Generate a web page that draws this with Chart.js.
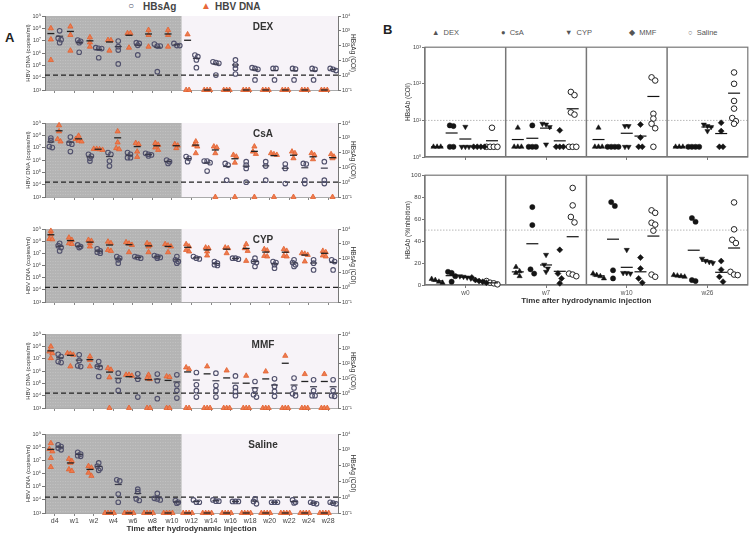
<!DOCTYPE html>
<html>
<head>
<meta charset="utf-8">
<script src="https://cdn.jsdelivr.net/npm/chart.js@4.4.1/dist/chart.umd.min.js"></script>
<style>
  body { margin: 0; width: 755px; height: 535px; position: relative; overflow: hidden; background: #fff;
         font-family: Arial, "Liberation Sans", Helvetica, sans-serif; }
  .txt { position: absolute; white-space: nowrap; color: #444; }
  .big { font-weight: bold; font-size: 13px; color: #222; }
  .legA { font-weight: bold; font-size: 10px; }
  .legB { font-size: 7.5px; color: #555; }
</style>
</head>
<body>
<div class="txt big" style="left:5px;top:30px">A</div>
<div class="txt big" style="left:383px;top:22px">B</div>

<div class="txt legA" style="left:128px;top:0px"><span style="color:#50506c">○</span></div>
<div class="txt legA" style="left:143px;top:1px">HBsAg</div>
<div class="txt legA" style="left:201px;top:0px"><span style="color:#e8683a">▲</span></div>
<div class="txt legA" style="left:215px;top:1px">HBV DNA</div>

<div class="txt legB" style="left:432px;top:28px">▲&nbsp;&nbsp;DEX</div>
<div class="txt legB" style="left:501px;top:28px">●&nbsp;&nbsp;CsA</div>
<div class="txt legB" style="left:565px;top:28px">▼&nbsp;&nbsp;CYP</div>
<div class="txt legB" style="left:629px;top:28px">◆&nbsp;&nbsp;MMF</div>
<div class="txt legB" style="left:688px;top:28px">○&nbsp;&nbsp;Saline</div>

<script>
// ---- panel A data: log10 values ----
const timepoints = ["d4", "w1", "w2", "w4", "w6", "w8", "w10", "w12", "w14", "w16", "w18", "w20", "w22", "w24", "w28"];
const dnaTicks = [3, 4, 5, 6, 7, 8, 9];      // HBV DNA axis, log10 copies/ml
const hbsagTicks = [-1, 0, 1, 2, 3, 4];      // HBsAg axis, log10 COI

// HBV DNA (log10 copies/ml), 3 = undetectable
const dexDna = [
  [8.0, 7.1, 5.43], [8.14, 7.46, 6.19], [7.27, 6.86, 6.51], [7.05, 7.03, 6.19], [7.6, 7.6, 6.43], [7.86, 7.46, 6.51], [7.86, 7.46, 6.51],
  [7.51, 3, 3], [3, 3, 3], [3, 3, 3], [3, 3, 3], [3, 3, 3], [3, 3, 3], [3, 3, 3], [3, 3, 3]
];
const dexHbsag = [
  [3.0, 2.5, 2.2, 2.4], [2.2, 2.29, 2.38, 1.55], [1.82, 1.8, 1.86, 1.18], [2.31, 1.93, 1.7, 0.76], [2.2, 2.15, 2.02, 1.37], [1.97, 1.97, 2.1, 0.24], [2.15, 2.0, 2.0],
  [1.25, 1.36, 1.03, 0.51], [0.85, 0.8, 0.91, 0.01], [1.03, 0.69, 0.46, 0.08], [0.46, 0.4, 0.51, -0.32], [0.46, 0.46, -0.32], [0.46, 0.42, -0.32], [0.46, 0.4, -0.32], [0.4, 0.31, 0.46]
];
const csaDna = [
  [8.81, 8.32, 7.69, 7.5], [7.96, 7.69, 7.56, 7.5], [6.9, 6.9, 6.87, 6.82], [8.32, 7.42, 6.96, 6.87], [7.37, 7.28, 6.68, 6.25], [7.37, 7.23, 7.01, 6.82], [7.28, 7.17, 6.96],
  [7.5, 7.23, 7.09, 6.55], [7.09, 7.01, 6.55, 3], [6.41, 6.27, 5.78, 3], [7.09, 6.68, 6.49, 3], [6.47, 6.41, 6.55, 3], [6.68, 6.55, 6.14, 3], [6.55, 6.41, 6.06, 3], [6.47, 6.27, 6.14, 3]
];
const csaHbsag = [
  [2.98, 2.82, 2.41, 2.34], [3.05, 2.64, 2.57, 2.07], [1.89, 1.77, 1.61, 1.43], [2.0, 1.89, 1.43, 1.09], [2.0, 1.89, 1.66, 1.66], [1.95, 1.84, 1.89, 1.77], [1.5, 1.39, 1.27],
  [1.73, 1.61, 1.39], [1.43, 1.43, 1.32, 0.75], [1.27, 1.16, 0.14], [1.39, 1.16, 0.93, 0], [1.39, 1.09, 0.14], [1.23, 0.93, -0.09], [1.27, 1.23, 0.14, -0.09], [1.39, 0.14, -0.09]
];
const cypDna = [
  [8.84, 8.56, 8.18, 8.15], [8.29, 8.1, 7.83, 7.77], [8.1, 8.02, 7.83, 7.56], [7.96, 7.83, 7.28, 7.2], [7.91, 7.8, 7.69, 7.09], [7.83, 7.69, 7.56, 7.09], [7.75, 7.64, 7.56, 7.09],
  [7.75, 7.56, 7.28, 7.15], [7.47, 7.42, 7.15, 6.82], [7.47, 7.42, 7.01], [7.75, 7.42, 7.2, 6.38], [7.34, 7.23, 6.79, 6.74], [7.34, 7.2, 6.79, 6.74], [7.01, 6.96, 6.87, 6.33], [7.2, 7.09, 6.82, 6.74]
];
const cypHbsag = [
  [3.02, 2.86, 2.73, 2.5], [2.91, 2.8, 2.73], [2.64, 2.5, 2.41, 2.34], [2.11, 2.0, 1.89, 1.66], [2.11, 2.05, 2.0], [2.18, 2.11, 2.05, 2.0], [2.11, 1.89, 1.77, 1.66],
  [2.11, 2.0, 1.95], [1.77, 1.66, 1.55, 1.5], [2.0, 2.0, 1.93], [2.0, 1.77, 1.7, 1.43], [1.77, 1.7, 1.55, 1.32], [1.89, 1.7, 1.55, 1.43], [1.89, 1.66, 1.2], [1.89, 1.77, 1.2]
];
const mmfDna = [
  [7.98, 7.58, 7.44, 7.04], [7.44, 7.39, 7.31, 6.37], [7.17, 6.9, 6.37], [6.23, 6.1, 5.48, 3], [5.69, 5.69, 5.61, 3], [5.69, 5.42, 5.34, 3, 3], [5.56, 5.51, 3, 3],
  [6.29, 6.15, 3, 3], [6.37, 3, 3, 3], [6.04, 3, 3, 3], [5.61, 3, 3, 3], [5.96, 3, 3, 3], [7.23, 3, 3, 3], [5.75, 3, 3, 3], [5.75, 3, 3, 3]
];
const mmfHbsag = [
  [2.63, 2.48, 2.14, 2.07], [2.59, 2.21, 1.85, 1.8], [2.14, 1.8, 1.74, 1.13], [1.35, 0.84, 0.19], [1.31, 0.95, -0.26], [1.29, 0.84, -0.37], [1.24, 0.57, 0.19, -0.33],
  [1.4, 0.57, 0.17, -0.26], [1.35, 0.52, 0.17, -0.26], [1.17, 0.39, 0.12, -0.17], [0.79, 0.23, -0.1, -0.26], [0.97, 0.46, 0.12, -0.21], [1.02, 0.35, -0.04, -0.17], [0.91, 0.17, -0.17, -0.17], [0.91, 0.17, -0.17, -0.21]
];
const salineDna = [
  [8.3, 7.86, 7.68, 7.18, 6.49], [7.11, 6.94, 6.81, 6.31, 6.19], [6.56, 6.44, 6.06, 5.82], [3, 3, 3, 3], [3, 3, 3, 3], [3, 3, 3, 3], [3, 3, 3, 3],
  [3, 3, 3, 3], [3, 3, 3, 3], [3, 3, 3, 3], [3, 3, 3, 3], [3, 3, 3, 3], [3, 3, 3, 3], [3, 3, 3, 3], [3, 3, 3, 3]
];
const salineHbsag = [
  [3.32, 3.21, 3.11, 3.0], [2.84, 2.73, 2.63, 2.59], [2.17, 1.97, 1.82, 1.7], [1.1, 1.03, 0.2, -0.32], [0.51, 0.35, -0.11, -0.21], [0.24, -0.07, -0.11, -0.17], [-0.21, -0.32, -0.38],
  [-0.17, -0.32, -0.32], [-0.17, -0.25, -0.25], [-0.27, -0.27, -0.27], [-0.11, -0.27, -0.42], [-0.32, -0.32, -0.32], [-0.17, -0.32, -0.36], [-0.32, -0.38, -0.42], [-0.32, -0.38, -0.42]
];

// ---- panel B data ----
const weeksB = ["w0", "w7", "w10", "w26"];
const treatments = ["DEX", "CsA", "CYP", "MMF", "Saline"];
const hbsabTicks = [0, 1, 2, 3];
// HBsAb (COI) per week
const hbsabDex = [[1.9, 1.9, 1.9], [6.3, 1.9, 1.9, 1.9], [6.3, 1.9, 1.9, 1.9], [1.9, 1.9, 1.9]];
const hbsabCsa = [[7.3, 7.0, 1.9, 1.9], [7.3, 1.9, 1.9, 1.9], [1.9, 1.9, 1.9, 1.9], [1.9, 1.9, 1.9, 1.9]];
const hbsabCyp = [[6.7, 1.9, 1.9, 1.9], [8.1, 7.7, 6.6, 2.2], [7, 7, 1.9, 1.9], [7.7, 7, 6.6, 5.1]];
const hbsabMmf = [[1.9, 1.9, 1.9, 1.9], [5.35, 1.9, 1.9, 1.9], [7.7, 3.4, 1.9, 1.9], [8.6, 5.1, 1.9, 1.9]];
const hbsabSaline = [[6.3, 1.9, 1.9, 1.9, 1.9], [60, 49, 16.5, 14.4, 1.9, 1.9, 1.9], [150, 123, 15.2, 11.2, 8.1, 6.1, 1.9], [204, 100, 34, 21, 11.6, 9.5, 8.1]];
// HBcAb (% inhibition) per week
const hbcabDex = [[5.5, 4.5, 3, 2], [16.4, 12.5, 11, 8], [10.4, 9, 8, 6], [9, 8.5, 8, 7.5]];
const hbcabCsa = [[12, 11, 8, 3], [71, 54.6, 14.3, 10.4], [75.5, 72, 13.4, 6], [61, 57.6, 4.5, 3.6]];
const hbcabCyp = [[8, 7.5, 6.9, 6], [27.5, 18.5, 15, 12], [32, 11, 11, 10.4], [24, 22, 21, 20]];
const hbcabMmf = [[6.9, 4.5, 3.6, 3, 2.1], [32, 10.4, 6, 1.5], [25, 15, 6, 2.1], [21.8, 14, 7.5, 3]];
const hbcabSaline = [[3.6, 2.1, 1.5, 0.6], [88.4, 72.5, 62, 57, 10.4, 9.5, 8], [68, 65.7, 56.7, 55, 49.5, 9.5, 7.5], [75.2, 50.7, 41.2, 38.2, 12, 9.5, 9]];

// ---- helpers ----
const supMap = { "-": "⁻", "0": "⁰", "1": "¹", "2": "²", "3": "³", "4": "⁴", "5": "⁵", "6": "⁶", "7": "⁷", "8": "⁸", "9": "⁹" };
function pow10Label(v) {
  const e = Math.round(Math.log10(v));
  return "10" + String(e).split("").map((c) => supMap[c]).join("");
}

function addCanvas(left, top, w, h) {
  const c = document.createElement("canvas");
  c.width = w;
  c.height = h;
  c.style.cssText = `position:absolute;left:${left}px;top:${top}px;width:${w}px;height:${h}px`;
  document.body.appendChild(c);
  return c;
}

// put values that are close together side by side
function swarm(vals, center, step, thr) {
  const order = vals.map((v, i) => i).sort((a, b) => vals[b] - vals[a]);
  const xs = new Array(vals.length);
  let cluster = [];
  const flush = () => {
    cluster.forEach((idx, k) => {
      xs[idx] = center + (k - (cluster.length - 1) / 2) * step;
    });
    cluster = [];
  };
  order.forEach((idx) => {
    if (cluster.length && Math.abs(vals[cluster[0]] - vals[idx]) > thr) flush();
    cluster.push(idx);
  });
  flush();
  return xs;
}

function mean(arr) {
  return arr.reduce((s, v) => s + v, 0) / arr.length;
}

const smallTick = { size: 5.5, family: "Arial" };

// ---- panel A ----
function buildA(spec) {
  const { top, bottom, label, dna, hbsag, dnaFirst, showX } = spec;
  const padTop = 6;
  const xh = showX ? 21 : 6;
  const canvas = addCanvas(0, top - padTop, 375, padTop + (bottom - top) + xh);
  const dnaOff = dnaFirst ? -0.2 : 0.22;
  const agOff = dnaFirst ? 0.25 : -0.2;

  const dnaPts = [], agPts = [], dnaMean = [], agMean = [];
  timepoints.forEach((t, i) => {
    const xs = swarm(dna[i], i + dnaOff, 0.15, 0.25);
    dna[i].forEach((v, k) => dnaPts.push({ x: xs[k], y: 10 ** v }));
    dnaMean.push({ x: i + dnaOff, y: mean(dna[i].map((v) => 10 ** v)) });
    const xa = swarm(hbsag[i], i + agOff, 0.15, 0.16);
    hbsag[i].forEach((v, k) => agPts.push({ x: xa[k], y: 10 ** v }));
    agMean.push({ x: i + agOff, y: mean(hbsag[i].map((v) => 10 ** v)) });
  });

  const panelBg = {
    id: "panelBg",
    beforeDraw(chart) {
      const { ctx, chartArea: a, scales } = chart;
      const split = scales.x.getPixelForValue(6.5);
      ctx.save();
      ctx.fillStyle = "#b4b4b4";
      ctx.fillRect(a.left, a.top, split - a.left, a.bottom - a.top);
      ctx.strokeStyle = "rgba(225,225,225,0.3)";
      ctx.lineWidth = 1;
      ctx.setLineDash([1, 1.5]);
      for (let y = a.top + 2.5; y < a.bottom; y += 3) {
        ctx.beginPath();
        ctx.moveTo(a.left, y);
        ctx.lineTo(split, y);
        ctx.stroke();
      }
      ctx.setLineDash([]);
      ctx.fillStyle = "#f7f3f8";
      ctx.fillRect(split, a.top, a.right - split, a.bottom - a.top);
      ctx.restore();
    },
    beforeDatasetsDraw(chart) {
      const { ctx, chartArea: a, scales } = chart;
      const yc = scales.y2.getPixelForValue(1);
      ctx.save();
      ctx.strokeStyle = "#222";
      ctx.lineWidth = 1.3;
      ctx.setLineDash([5, 3]);
      ctx.beginPath();
      ctx.moveTo(a.left, yc);
      ctx.lineTo(a.right, yc);
      ctx.stroke();
      ctx.setLineDash([]);
      ctx.fillStyle = "#333";
      ctx.font = "bold 10px Arial";
      ctx.textAlign = "center";
      ctx.textBaseline = "middle";
      ctx.fillText(label, 263, a.top + 11);
      ctx.restore();
    },
  };

  new Chart(canvas, {
    type: "scatter",
    data: {
      datasets: [
        { data: dnaMean, yAxisID: "y", pointStyle: "line", radius: 3.5, borderColor: "#222", borderWidth: 1.3, clip: false },
        { data: agMean, yAxisID: "y2", pointStyle: "line", radius: 3.5, borderColor: "#3a3a4a", borderWidth: 1.2, clip: false },
        { data: agPts, yAxisID: "y2", pointStyle: "circle", radius: 2.3, backgroundColor: "rgba(0,0,0,0)", borderColor: "#50506c", borderWidth: 1.1, clip: false },
        { data: dnaPts, yAxisID: "y", pointStyle: "triangle", radius: 3, backgroundColor: "#ee7b4f", borderColor: "#e2612f", borderWidth: 0.8, clip: false },
      ],
    },
    options: {
      animation: false,
      responsive: false,
      devicePixelRatio: 1,
      events: [],
      layout: { padding: { top: padTop, left: 0, right: 0, bottom: 0 } },
      plugins: { legend: { display: false }, tooltip: { enabled: false } },
      scales: {
        x: {
          type: "linear",
          min: -0.5,
          max: 14.5,
          afterBuildTicks: (s) => { s.ticks = timepoints.map((t, i) => ({ value: i })); },
          afterFit: (s) => { s.height = xh; },
          grid: { display: true, drawOnChartArea: false, drawTicks: true, tickLength: 3, color: "#888" },
          border: { display: true, color: "#aaa", width: 1 },
          ticks: { display: showX, autoSkip: false, maxRotation: 0, padding: 1, color: "#444", font: { size: 7, family: "Arial" }, callback: (v) => timepoints[v] },
          title: { display: showX, text: "Time after hydrodynamic injection", color: "#333", font: { size: 8, weight: "bold", family: "Arial" }, padding: { top: 0, bottom: 0 } },
        },
        y: {
          type: "logarithmic",
          position: "left",
          min: 1e3,
          max: 1e9,
          afterBuildTicks: (s) => { s.ticks = dnaTicks.map((e) => ({ value: 10 ** e, major: true })); },
          afterFit: (s) => { s.width = 45; },
          grid: { display: true, drawOnChartArea: false, drawTicks: true, tickLength: 3, color: "#777" },
          border: { display: true, color: "#777", width: 1 },
          ticks: { padding: 1, color: "#444", font: smallTick, callback: (v) => pow10Label(v) },
          title: { display: true, text: "HBV DNA (copies/ml)", color: "#333", font: { size: 6, family: "Arial" }, padding: { top: 25, bottom: 0 } },
        },
        y2: {
          type: "logarithmic",
          position: "right",
          min: 0.1,
          max: 1e4,
          afterBuildTicks: (s) => { s.ticks = hbsagTicks.map((e) => ({ value: 10 ** e, major: true })); },
          afterFit: (s) => { s.width = 37; },
          grid: { display: true, drawOnChartArea: false, drawTicks: true, tickLength: 3, color: "#777" },
          border: { display: true, color: "#777", width: 1 },
          ticks: { padding: 1, color: "#444", font: smallTick, callback: (v) => pow10Label(v) },
          title: { display: true, text: "HBsAg (COI)", color: "#333", font: { size: 6.5, family: "Arial" }, padding: { top: 18, bottom: 0 } },
        },
      },
    },
    plugins: [panelBg],
  });
}

buildA({ top: 16, bottom: 90, label: "DEX", dna: dexDna, hbsag: dexHbsag, dnaFirst: true, showX: false });
buildA({ top: 123, bottom: 197, label: "CsA", dna: csaDna, hbsag: csaHbsag, dnaFirst: false, showX: false });
buildA({ top: 229, bottom: 302, label: "CYP", dna: cypDna, hbsag: cypHbsag, dnaFirst: true, showX: false });
buildA({ top: 334, bottom: 408, label: "MMF", dna: mmfDna, hbsag: mmfHbsag, dnaFirst: true, showX: false });
buildA({ top: 434, bottom: 513, label: "Saline", dna: salineDna, hbsag: salineHbsag, dnaFirst: true, showX: true });

// ---- panel B ----
const groupOffsets = [-0.35, -0.17, 0, 0.17, 0.33];
const markerStyles = [
  { pointStyle: "triangle", radius: 3, backgroundColor: "#151515", borderColor: "#151515", borderWidth: 0.5 },
  { pointStyle: "circle", radius: 2.6, backgroundColor: "#151515", borderColor: "#151515", borderWidth: 0.5 },
  { pointStyle: "triangle", rotation: 180, radius: 3, backgroundColor: "#151515", borderColor: "#151515", borderWidth: 0.5 },
  { pointStyle: "rectRot", radius: 3, backgroundColor: "#151515", borderColor: "#151515", borderWidth: 0.5 },
  { pointStyle: "circle", radius: 2.8, backgroundColor: "#fff", borderColor: "#222", borderWidth: 1 },
];

function buildB(spec) {
  const { top, bottom, series, log, xh, showX, yTitle, refValue } = spec;
  const padTop = 6;
  const canvas = addCanvas(380, top - padTop, 375, padTop + (bottom - top) + xh);
  const datasets = [];
  const means = [];
  series.forEach((weeks, t) => {
    const pts = [];
    weeks.forEach((vals, w) => {
      const key = log ? vals.map((v) => Math.log10(v)) : vals;
      const xs = swarm(key, w + groupOffsets[t], 0.045, log ? 0.13 : 5);
      vals.forEach((v, k) => pts.push({ x: xs[k], y: v }));
      means.push({ x: w + groupOffsets[t], y: mean(vals) });
    });
    datasets.push(Object.assign({ data: pts, clip: false }, markerStyles[t]));
  });
  datasets.unshift({ data: means, pointStyle: "line", radius: 6, borderColor: "#111", borderWidth: 1.2, clip: false });

  const frame = {
    id: "frame",
    beforeDatasetsDraw(chart) {
      const { ctx, chartArea: a, scales } = chart;
      ctx.save();
      const yr = scales.y.getPixelForValue(refValue);
      ctx.strokeStyle = "#b8b8b8";
      ctx.lineWidth = 1;
      ctx.setLineDash([1.5, 1.5]);
      ctx.beginPath();
      ctx.moveTo(a.left, yr);
      ctx.lineTo(a.right, yr);
      ctx.stroke();
      ctx.setLineDash([]);
      ctx.strokeStyle = "#777";
      ctx.lineWidth = 1.5;
      [0.5, 1.5, 2.5].forEach((v) => {
        const x = scales.x.getPixelForValue(v);
        ctx.beginPath();
        ctx.moveTo(x, a.top);
        ctx.lineTo(x, a.bottom);
        ctx.stroke();
      });
      ctx.lineWidth = 1.2;
      ctx.strokeRect(a.left, a.top, a.right - a.left, a.bottom - a.top);
      ctx.restore();
    },
  };

  const yScale = log
    ? {
        type: "logarithmic",
        min: 1,
        max: 1000,
        afterBuildTicks: (s) => { s.ticks = hbsabTicks.map((e) => ({ value: 10 ** e, major: true })); },
        ticks: { padding: 1, color: "#444", font: smallTick, callback: (v) => pow10Label(v) },
      }
    : {
        type: "linear",
        min: 0,
        max: 100,
        ticks: { stepSize: 20, padding: 1, color: "#444", font: { size: 6, family: "Arial" } },
      };
  Object.assign(yScale, {
    position: "left",
    afterFit: (s) => { s.width = 45; },
    grid: { display: true, drawOnChartArea: false, drawTicks: true, tickLength: 3, color: "#777" },
    border: { display: true, color: "#777", width: 1.2 },
    title: { display: true, text: yTitle, color: "#333", font: { size: 6.5, family: "Arial" }, padding: { top: 24, bottom: 0 } },
  });

  new Chart(canvas, {
    type: "scatter",
    data: { datasets },
    options: {
      animation: false,
      responsive: false,
      devicePixelRatio: 1,
      events: [],
      layout: { padding: { top: padTop, left: 0, right: 6, bottom: 0 } },
      plugins: { legend: { display: false }, tooltip: { enabled: false } },
      scales: {
        x: {
          type: "linear",
          min: -0.5,
          max: 3.5,
          afterBuildTicks: (s) => { s.ticks = weeksB.map((w, i) => ({ value: i })); },
          afterFit: (s) => { s.height = xh; },
          grid: { display: true, drawOnChartArea: false, drawTicks: true, tickLength: 3, color: "#777" },
          border: { display: true, color: "#777", width: 1.2 },
          ticks: { display: showX, autoSkip: false, maxRotation: 0, padding: 1, color: "#555", font: { size: 6.5, family: "Arial" }, callback: (v) => weeksB[v] },
          title: { display: showX, text: "Time after hydrodynamic injection", color: "#333", font: { size: 8, weight: "bold", family: "Arial" }, padding: { top: 0, bottom: 3 } },
        },
        y: yScale,
      },
    },
    plugins: [frame],
  });
}

buildB({
  top: 46, bottom: 157, log: true, xh: 8, showX: false, yTitle: "HBsAb (COI)", refValue: 10,
  series: [hbsabDex, hbsabCsa, hbsabCyp, hbsabMmf, hbsabSaline],
});
buildB({
  top: 174, bottom: 285, log: false, xh: 24, showX: true, yTitle: "HBcAb (%inhibition)", refValue: 50,
  series: [hbcabDex, hbcabCsa, hbcabCyp, hbcabMmf, hbcabSaline],
});
</script>
</body>
</html>
